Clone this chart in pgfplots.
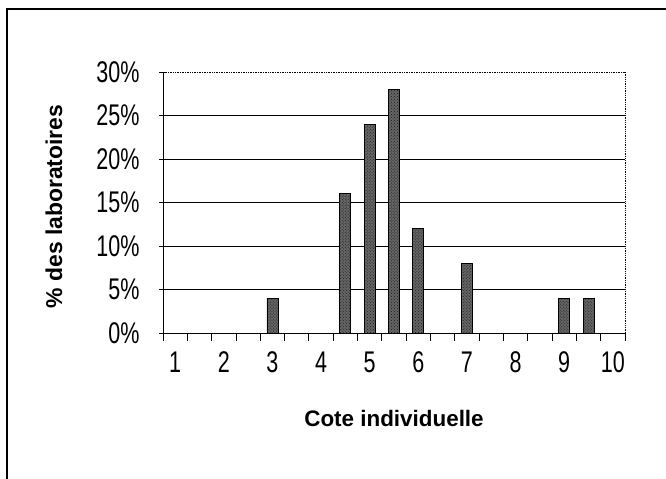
\documentclass[border=0pt]{standalone}
\usepackage{fontspec}
\setmainfont{Liberation Sans}
\newfontfamily\narrowfont[FakeStretch=0.72]{Liberation Sans}
\usepackage{pgfplots}
\pgfplotsset{compat=1.18}
\usetikzlibrary{patterns}
\begin{document}
\begin{tikzpicture}[x=1bp,y=1bp]
\path[use as bounding box] (0,0) rectangle (666,479);
\draw[line width=1.2bp] (7,0) -- (7,470) -- (666,470);
\begin{axis}[
  at={(163bp,146bp)}, anchor=south west,
  scale only axis, width=462bp, height=261bp,
  xmin=0.75, xmax=10.25, ymin=0, ymax=30,
  axis lines*=left,
  axis line style={black, line width=0.8bp},
  tick align=center,
  major tick length=8bp,
  tick style={black, line width=0.8bp},
  xtick={0.75,1.25,...,10.25}, xticklabels={},
  xtick style={yshift=-4bp},
  extra x ticks={1,2,3,4,5,6,7,8,9,10},
  extra x tick labels={1,2,3,4,5,6,7,8,9,10},
  extra x tick style={xtick style={draw=none}},
  xticklabel style={font=\narrowfont\fontsize{30}{30}\selectfont, anchor=north, yshift=-11bp},
  ytick={0,5,10,15,20,25},
  yticklabels={0\%,5\%,10\%,15\%,20\%,25\%},
  extra y ticks={30}, extra y tick labels={30\%},
  extra y tick style={grid style={densely dotted, black, line width=0.8bp}},
  yticklabel style={font=\narrowfont\fontsize{30}{30}\selectfont, anchor=east, xshift=-16bp},
  ymajorgrids, grid style={black, line width=0.7bp},
  xlabel={Cote individuelle},
  xlabel style={font=\bfseries\fontsize{22.5}{22.5}\selectfont, at={(axis description cs:0.5,-0.360)}, anchor=base},
  ylabel={\% des laboratoires},
  ylabel style={font=\bfseries\fontsize{23}{23}\selectfont, at={(axis description cs:-0.2186,0.4847)}, anchor=base},
  clip=false,
]
\addplot[ybar, bar width=11bp, fill=black!60, draw=black, line width=0.8bp,
  postaction={pattern=crosshatch dots, pattern color=black!90}]
  coordinates {(3,4) (4.5,16) (5,24) (5.5,28) (6,12) (7,8) (9,4) (9.5,4)};
\draw[densely dotted, line width=0.8bp] (axis cs:10.25,0) -- (axis cs:10.25,30);
\end{axis}
\end{tikzpicture}
\end{document}
